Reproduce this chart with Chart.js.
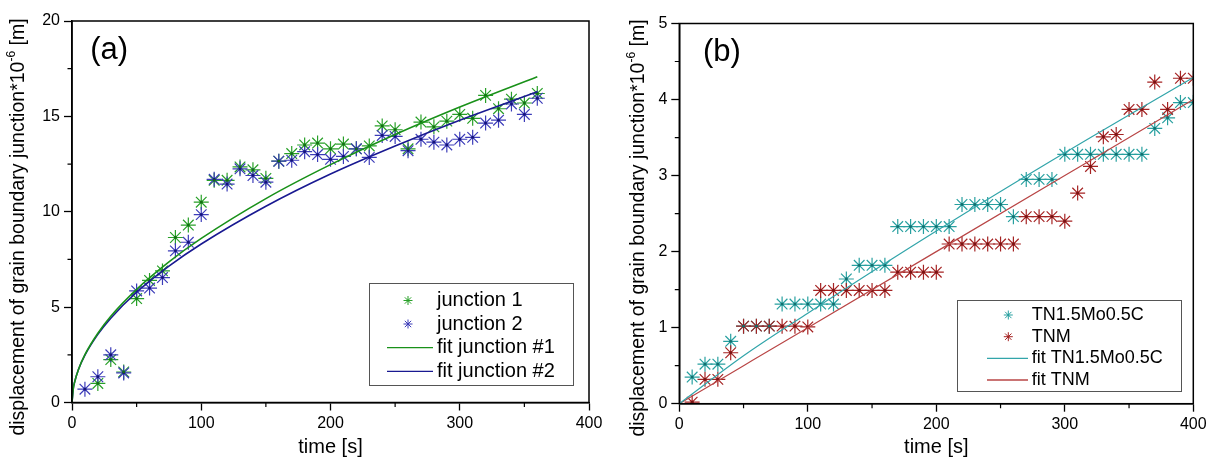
<!DOCTYPE html>
<html>
<head>
<meta charset="utf-8">
<script src="https://cdn.jsdelivr.net/npm/chart.js@4.4.1/dist/chart.umd.min.js"></script>
<style>
  html, body { margin: 0; padding: 0; background: #fff; }
  #wrap { position: relative; width: 1218px; height: 466px; }
  canvas { position: absolute; top: 0; }
  #chartA { left: 0; }
  #chartB { left: 609px; }
</style>
</head>
<body>
<div id="wrap">
  <canvas id="chartA" width="609" height="466"></canvas>
  <canvas id="chartB" width="609" height="466"></canvas>
</div>
<script>
// (a) two junctions, one reading every 10 s
var timeA = [10, 20, 30, 40, 50, 60, 70, 80, 90, 100, 110, 120, 130, 140, 150, 160, 170, 180,
             190, 200, 210, 220, 230, 240, 250, 260, 270, 280, 290, 300, 310, 320, 330, 340, 350, 360];
var junction1 = [null, 1.0, 2.25, 1.6, 5.45, 6.4, 6.9, 8.65, 9.3, 10.5, 11.65, 11.65, 12.35, 12.2, 11.75, 12.65, 13.05, 13.5,
                 13.6, 13.3, 13.55, 13.3, 13.45, 14.5, 14.3, 13.3, 14.7, 14.45, 14.75, 15.1, 14.9, 16.1, 15.4, 15.9, 15.7, 16.2];
var junction2 = [0.7, 1.35, 2.5, 1.55, 5.85, 6.0, 6.55, 7.95, 8.4, 9.85, 11.7, 11.45, 12.25, 11.9, 11.55, 12.65, 12.7, 13.15,
                 13.0, 12.75, 12.9, 13.3, 12.85, 14.0, 13.95, 13.2, 13.8, 13.65, 13.5, 13.8, 13.9, 14.65, 14.8, 15.65, 15.1, 15.95];
var fitTimeA = [0, 1, 2, 5, 10, 20, 30, 50, 75, 100, 150, 200, 250, 300, 360];
var fitJunction1 = [0, 0.73, 1.06, 1.73, 2.51, 3.63, 4.52, 5.93, 7.37, 8.60, 10.69, 12.47, 14.05, 15.49, 17.08];
var fitJunction2 = [0, 0.74, 1.07, 1.73, 2.48, 3.57, 4.42, 5.78, 7.15, 8.31, 10.29, 11.98, 13.45, 14.80, 16.29];

// (b) the two alloys
var timeB = [10, 20, 30, 40, 50, 60, 70, 80, 90, 100, 110, 120, 130, 140, 150, 160, 170, 180, 190, 200,
             210, 220, 230, 240, 250, 260, 270, 280, 290, 300, 310, 320, 330, 340, 350, 360, 370, 380, 390, 400];
var tn15 = [0.35, 0.52, 0.52, 0.82, 1.02, 1.02, 1.02, 1.31, 1.31, 1.31, 1.31, 1.31, 1.64, 1.82, 1.82, 1.82, 2.33, 2.33, 2.33, 2.33,
            2.33, 2.62, 2.62, 2.62, 2.62, 2.46, 2.95, 2.95, 2.95, 3.28, 3.28, 3.28, 3.28, 3.28, 3.28, 3.28, 3.62, 3.76, 3.96, 3.96];
var tnm = [0.02, 0.32, 0.32, 0.67, 1.02, 1.02, 1.02, 1.02, 1.02, 1.01, 1.49, 1.49, 1.49, 1.49, 1.49, 1.49, 1.73, 1.73, 1.73, 1.73,
           2.10, 2.10, 2.10, 2.10, 2.10, 2.10, 2.46, 2.46, 2.46, 2.40, 2.77, 3.12, 3.51, 3.54, 3.87, 3.87, 4.23, 3.87, 4.28, 4.28];
var fitTimeB = [0, 50, 100, 200, 300, 400];
var fitTn15 = [0, 0.63, 1.19, 2.27, 3.30, 4.29];
var fitTnm = [0, 0.50, 1.00, 2.00, 3.00, 4.00];

// tick labels
var timeTicks = [0, 100, 200, 300, 400];
var yTicksA = [0, 5, 10, 15, 20];
var yTicksB = [0, 1, 2, 3, 4, 5];

var FONT = '"Liberation Sans", Arial, sans-serif';
Chart.defaults.font.family = FONT;
Chart.defaults.color = '#000';

function pts(xs, ys) {
  var out = [];
  for (var i = 0; i < xs.length; i++) {
    if (ys[i] !== null) out.push({ x: xs[i], y: ys[i] });
  }
  return out;
}

function stars(label, xs, ys, color, order) {
  return {
    label: label, data: pts(xs, ys), showLine: false,
    pointStyle: 'star', pointRadius: 7.5, pointHoverRadius: 7.5, pointBorderWidth: 1.2,
    borderColor: color, backgroundColor: color, order: order
  };
}

// small filled centre of each asterisk
function dots(xs, ys, color) {
  return {
    label: '', data: pts(xs, ys), showLine: false,
    pointStyle: 'circle', pointRadius: 1.4, pointHoverRadius: 1.4, pointBorderWidth: 0,
    borderColor: color, backgroundColor: color, order: 1
  };
}

function fitLine(label, xs, ys, color, width) {
  return {
    label: label, data: pts(xs, ys), showLine: true, pointRadius: 0, pointHoverRadius: 0,
    borderColor: color, backgroundColor: color, borderWidth: width,
    cubicInterpolationMode: 'monotone', order: 0, isLine: true
  };
}

function fixedTicks(list) {
  return function (s) { s.ticks = list.map(function (v) { return { value: v }; }); };
}

function scales(yTicks, yWidth, xHeight) {
  return {
    x: {
      type: 'linear', min: timeTicks[0], max: timeTicks[timeTicks.length - 1],
      afterBuildTicks: fixedTicks(timeTicks),
      ticks: { font: { size: 16 }, color: '#000', padding: 3, maxRotation: 0 },
      grid: { drawOnChartArea: false, tickLength: 8, tickColor: '#000', tickWidth: 1.3 },
      border: { color: '#000', width: 1.5 },
      title: { display: true, text: 'time [s]', font: { size: 20 }, color: '#000', padding: { top: 0, bottom: 7 } },
      afterFit: function (s) { s.height = xHeight; }
    },
    y: {
      type: 'linear', min: yTicks[0], max: yTicks[yTicks.length - 1],
      afterBuildTicks: fixedTicks(yTicks),
      ticks: { font: { size: 16 }, color: '#000', padding: 4 },
      grid: { drawOnChartArea: false, tickLength: 8, tickColor: '#000', tickWidth: 1.3 },
      border: { color: '#000', width: 1.5 },
      afterFit: function (s) { s.width = yWidth; }
    }
  };
}

// frame, minor ticks, panel tag, y title and the boxed legend
var decor = {
  id: 'decor',
  afterDraw: function (chart, args, o) {
    var ctx = chart.ctx, a = chart.chartArea;
    var xs = chart.scales.x, ys = chart.scales.y;
    var i;
    ctx.save();

    ctx.strokeStyle = '#000';
    ctx.lineWidth = 1.5;
    ctx.strokeRect(a.left, a.top, a.right - a.left, a.bottom - a.top);

    ctx.lineWidth = 1.2;
    ctx.beginPath();
    for (i = 0; i < timeTicks.length - 1; i++) {
      var px = xs.getPixelForValue((timeTicks[i] + timeTicks[i + 1]) / 2);
      ctx.moveTo(px, a.bottom); ctx.lineTo(px, a.bottom + 4.5);
    }
    for (i = 0; i < o.yMajor.length - 1; i++) {
      var py = ys.getPixelForValue((o.yMajor[i] + o.yMajor[i + 1]) / 2);
      ctx.moveTo(a.left, py); ctx.lineTo(a.left - 4.5, py);
    }
    ctx.stroke();

    ctx.fillStyle = '#000';
    ctx.textAlign = 'left';
    ctx.textBaseline = 'alphabetic';
    ctx.font = '31px ' + FONT;
    ctx.fillText(o.tag, a.left + o.tagDx, a.top + 37.5);

    // y title: "...junction*10" + superscript "-6" + " [m]"
    var main = '19.5px ' + FONT, sup = '12px ' + FONT;
    var p1 = 'displacement of grain boundary junction*10', p2 = '-6', p3 = ' [m]';
    ctx.font = main;
    var w1 = ctx.measureText(p1).width, w3 = ctx.measureText(p3).width;
    ctx.font = sup;
    var w2 = ctx.measureText(p2).width;
    var total = w1 + w2 + w3;
    ctx.translate(o.titleX, o.titleY);
    ctx.rotate(-Math.PI / 2);
    ctx.textBaseline = 'middle';
    ctx.font = main;
    ctx.fillText(p1, -total / 2, 0);
    ctx.font = sup;
    ctx.fillText(p2, -total / 2 + w1, -7);
    ctx.font = main;
    ctx.fillText(p3, -total / 2 + w1 + w2, 0);
    ctx.setTransform(1, 0, 0, 1, 0, 0);

    var L = o.legend;
    ctx.strokeStyle = '#555';
    ctx.lineWidth = 1;
    ctx.strokeRect(L.box[0], L.box[1], L.box[2] - L.box[0], L.box[3] - L.box[1]);
    ctx.font = L.size + 'px ' + FONT;
    ctx.textBaseline = 'middle';
    var row = 0;
    chart.data.datasets.forEach(function (ds) {
      if (!ds.label) return;
      var y = L.rows[row++];
      ctx.strokeStyle = ds.borderColor;
      ctx.fillStyle = ds.borderColor;
      if (ds.isLine) {
        ctx.lineWidth = 1.3;
        ctx.beginPath();
        ctx.moveTo(L.line[0], y); ctx.lineTo(L.line[1], y);
        ctx.stroke();
      } else {
        ctx.lineWidth = 1;
        Chart.helpers.drawPoint(ctx, { pointStyle: 'star', radius: 4.5, borderWidth: 1, rotation: 0 }, L.sym, y);
        ctx.beginPath();
        ctx.arc(L.sym, y, 1, 0, Math.PI * 2);
        ctx.fill();
      }
      ctx.fillStyle = '#000';
      ctx.fillText(ds.label, L.text, y);
    });
    ctx.restore();
  }
};

var green = 'rgb(40,160,40)', blue = 'rgb(60,60,185)';
var teal = 'rgb(40,160,160)', red = 'rgb(165,35,35)';

new Chart(document.getElementById('chartA'), {
  type: 'scatter',
  data: {
    datasets: [
      stars('junction 1', timeA, junction1, green, 3),
      stars('junction 2', timeA, junction2, blue, 2),
      fitLine('fit junction #1', fitTimeA, fitJunction1, 'rgb(25,145,25)', 1.6),
      fitLine('fit junction #2', fitTimeA, fitJunction2, 'rgb(25,25,145)', 1.6),
      dots(timeA, junction1, 'rgb(20,110,20)'),
      dots(timeA, junction2, 'rgb(20,20,120)')
    ]
  },
  options: {
    responsive: false, animation: false, devicePixelRatio: 1,
    layout: { padding: { left: 0, right: 20, top: 21, bottom: 0 } },
    scales: scales(yTicksA, 72, 63.5),
    plugins: {
      legend: { display: false }, tooltip: { enabled: false },
      decor: {
        tag: '(a)', tagDx: 18.3, yMajor: yTicksA, titleX: 19, titleY: 227,
        legend: { box: [369.5, 283.5, 573.5, 385.5], rows: [300.5, 324, 347.7, 371.4],
                  sym: 408, line: [387, 433], text: 437, size: 20 }
      }
    }
  },
  plugins: [decor]
});

new Chart(document.getElementById('chartB'), {
  type: 'scatter',
  data: {
    datasets: [
      stars('TN1.5Mo0.5C', timeB, tn15, teal, 3),
      stars('TNM', timeB, tnm, red, 2),
      fitLine('fit TN1.5Mo0.5C', fitTimeB, fitTn15, 'rgb(50,165,170)', 1.2),
      fitLine('fit TNM', fitTimeB, fitTnm, 'rgb(185,70,70)', 1.2),
      dots(timeB, tn15, 'rgb(20,110,110)'),
      dots(timeB, tnm, 'rgb(120,20,20)')
    ]
  },
  options: {
    responsive: false, animation: false, devicePixelRatio: 1,
    layout: { padding: { left: 0, right: 24.7, top: 23.5, bottom: 0 } },
    scales: scales(yTicksB, 70.3, 62.3),
    plugins: {
      legend: { display: false }, tooltip: { enabled: false },
      decor: {
        tag: '(b)', tagDx: 23.7, yMajor: yTicksB, titleX: 30, titleY: 228,
        legend: { box: [348.5, 300.5, 572.5, 391.5], rows: [315, 336.7, 358.4, 380],
                  sym: 399.3, line: [378, 419], text: 422.7, size: 18 }
      }
    }
  },
  plugins: [decor]
});
</script>
</body>
</html>
